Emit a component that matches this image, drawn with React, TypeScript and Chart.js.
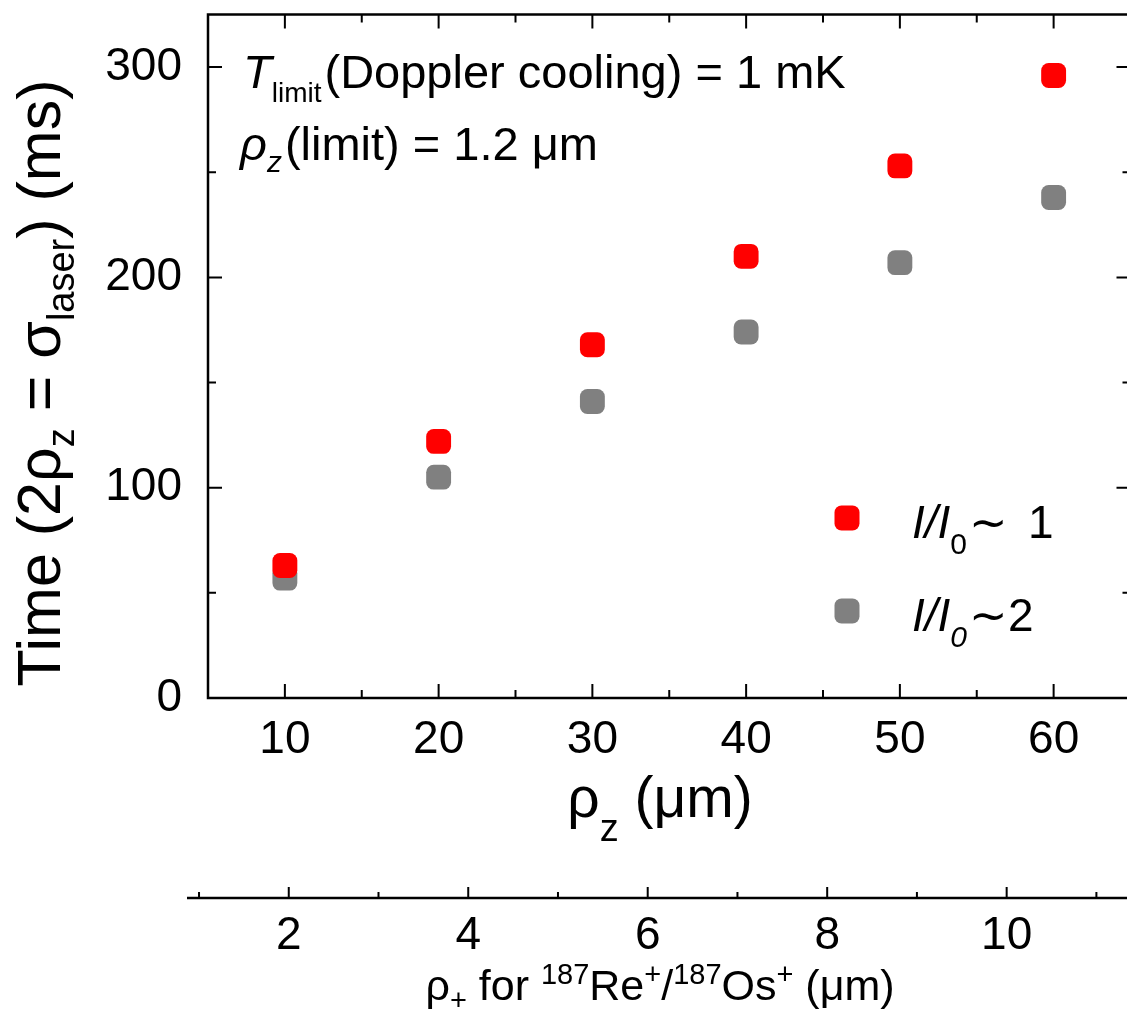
import React, { useEffect, useRef } from "react";
import { Chart, registerables } from "chart.js";

Chart.register(...registerables);

// ---- data ----
const RHO_Z = [10, 20, 30, 40, 50, 60];
const TIME_I1 = [63, 122, 168, 210, 253, 296];
const TIME_I2 = [57, 105, 141, 174, 207, 238];

const X_MIN = 5;
const X_MAX = 65;
const X_TICKS = [10, 20, 30, 40, 50, 60];
const X_MINOR = [15, 25, 35, 45, 55];

const Y_MIN = 0;
const Y_MAX = 325;
const Y_TICKS = [0, 100, 200, 300];
const Y_MINOR = [50, 150, 250];

const X2_MIN = 1.1;
const X2_MAX = 11.38;
const X2_TICKS = [2, 4, 6, 8, 10];
const X2_MINOR = [1, 3, 5, 7, 9, 11];

const SERIES_LABELS = ["I/I0~ 1", "I/I0~2"];
const RED = "#ff0000";
const GRAY = "#808080";

const FAMILY = '"Liberation Sans", Arial, Helvetica, sans-serif';
const fnt = (size: number, italic = false) =>
  `${italic ? "italic " : ""}${size}px ${FAMILY}`;

type Seg = { t: string; s: number; i?: boolean; dy?: number; dx?: number };

function segsWidth(ctx: CanvasRenderingContext2D, segs: Seg[]) {
  let w = 0;
  for (const g of segs) {
    ctx.font = fnt(g.s, g.i);
    w += (g.dx || 0) + ctx.measureText(g.t).width;
  }
  return w;
}

function drawSegs(
  ctx: CanvasRenderingContext2D,
  x: number,
  y: number,
  segs: Seg[],
  align: "left" | "center" = "left"
) {
  ctx.textAlign = "left";
  ctx.textBaseline = "alphabetic";
  let cx = align === "center" ? x - segsWidth(ctx, segs) / 2 : x;
  for (const g of segs) {
    ctx.font = fnt(g.s, g.i);
    cx += g.dx || 0;
    ctx.fillText(g.t, cx, y + (g.dy || 0));
    cx += ctx.measureText(g.t).width;
  }
}

const MAJ = 14;
const MIN = 8;

const decorPlugin = {
  id: "decor",
  afterDatasetsDraw(chart: any) {
    const ctx: CanvasRenderingContext2D = chart.ctx;
    const { left, right, top, bottom } = chart.chartArea;
    const xs = chart.scales.x;
    const ys = chart.scales.y;
    const x2 = chart.scales.x2;
    ctx.save();
    ctx.strokeStyle = "#000";
    ctx.lineWidth = 2.5;
    ctx.strokeRect(left, top, right - left, bottom - top);
    ctx.lineWidth = 2;
    ctx.beginPath();
    const xt = (vals: number[], len: number) => {
      for (const v of vals) {
        const p = xs.getPixelForValue(v);
        ctx.moveTo(p, bottom);
        ctx.lineTo(p, bottom - len);
        ctx.moveTo(p, top);
        ctx.lineTo(p, top + len);
      }
    };
    const yt = (vals: number[], len: number) => {
      for (const v of vals) {
        const p = ys.getPixelForValue(v);
        ctx.moveTo(left, p);
        ctx.lineTo(left + len, p);
        ctx.moveTo(right, p);
        ctx.lineTo(right - len, p);
      }
    };
    xt(X_TICKS, MAJ);
    xt(X_MINOR, MIN);
    yt(Y_TICKS, MAJ);
    yt(Y_MINOR, MIN);
    ctx.stroke();

    // secondary axis
    const y0 = x2.top;
    ctx.lineWidth = 2.5;
    ctx.beginPath();
    ctx.moveTo(left - 21, y0);
    ctx.lineTo(chart.width, y0);
    ctx.stroke();
    ctx.lineWidth = 2;
    ctx.beginPath();
    for (const v of X2_TICKS) {
      const p = x2.getPixelForValue(v);
      ctx.moveTo(p, y0);
      ctx.lineTo(p, y0 - 11);
    }
    for (const v of X2_MINOR) {
      const p = x2.getPixelForValue(v);
      ctx.moveTo(p, y0);
      ctx.lineTo(p, y0 - 6);
    }
    ctx.stroke();
    ctx.restore();
  },
  afterDraw(chart: any) {
    const ctx: CanvasRenderingContext2D = chart.ctx;
    ctx.save();
    ctx.fillStyle = "#000";

    // Y title (rotated)
    ctx.save();
    ctx.translate(60, 383);
    ctx.rotate(-Math.PI / 2);
    drawSegs(
      ctx,
      0,
      0,
      [
        { t: "Time (2ρ", s: 61 },
        { t: "z", s: 38, dy: 14 },
        { t: " = σ", s: 61 },
        { t: "laser", s: 38, dy: 14 },
        { t: ") (ms)", s: 61 },
      ],
      "center"
    );
    ctx.restore();

    // X title
    drawSegs(
      ctx,
      660,
      817,
      [
        { t: "ρ", s: 57 },
        { t: "z", s: 38, dy: 24 },
        { t: " (μm)", s: 57 },
      ],
      "center"
    );

    // X2 title
    drawSegs(
      ctx,
      660,
      1000,
      [
        { t: "ρ", s: 43 },
        { t: "+", s: 29, dy: 10 },
        { t: " for ", s: 43 },
        { t: "187", s: 29, dy: -16 },
        { t: "Re", s: 43 },
        { t: "+", s: 29, dy: -16 },
        { t: "/", s: 43 },
        { t: "187", s: 29, dy: -16 },
        { t: "Os", s: 43 },
        { t: "+", s: 29, dy: -16 },
        { t: " (μm)", s: 43 },
      ],
      "center"
    );

    // annotation
    drawSegs(ctx, 243, 88, [
      { t: "T", s: 47, i: true },
      { t: "limit", s: 28, dy: 14 },
      { t: "(Doppler cooling) = 1 mK", s: 47, dx: 3 },
    ]);
    drawSegs(ctx, 240, 160, [
      { t: "ρ", s: 47, i: true },
      { t: "z", s: 30, i: true, dy: 12 },
      { t: "(limit) = 1.2 μm", s: 47, dx: 3 },
    ]);

    // legend
    const rows = [
      { c: RED, y: 518, segs: [
        { t: "I/I", s: 46, i: true },
        { t: "0", s: 30, dy: 16 },
        { t: "∼", s: 46, dx: 2 },
        { t: "1", s: 46, dx: 20 },
      ] as Seg[] },
      { c: GRAY, y: 611, segs: [
        { t: "I/I", s: 46, i: true },
        { t: "0", s: 30, i: true, dy: 16 },
        { t: "∼", s: 46, dx: 2 },
        { t: "2", s: 46, dx: 0 },
      ] as Seg[] },
    ];
    for (const r of rows) {
      ctx.fillStyle = r.c;
      ctx.beginPath();
      (ctx as any).roundRect(847 - 12.5, r.y - 12.5, 25, 25, 7);
      ctx.fill();
      ctx.fillStyle = "#000";
      drawSegs(ctx, 912, r.y + 20, r.segs);
    }
    ctx.restore();
  },
};

export default function App() {
  const ref = useRef<HTMLCanvasElement | null>(null);
  useEffect(() => {
    if (!ref.current) return;
    const tickFont = { family: FAMILY, size: 46 };
    const zeroPad = (s: any) => {
      s.paddingTop = 0;
      s.paddingBottom = 0;
      s.paddingLeft = 0;
      s.paddingRight = 0;
    };
    const chart = new Chart(ref.current, {
      type: "scatter",
      data: {
        datasets: [
          {
            label: SERIES_LABELS[0],
            data: RHO_Z.map((x, i) => ({ x, y: TIME_I1[i] })),
            backgroundColor: RED,
            borderColor: RED,
            borderWidth: 0,
            pointStyle: "rectRounded",
            pointRadius: 14.5,
            pointHoverRadius: 14.5,
          },
          {
            label: SERIES_LABELS[1],
            data: RHO_Z.map((x, i) => ({ x, y: TIME_I2[i] })),
            backgroundColor: GRAY,
            borderColor: GRAY,
            borderWidth: 0,
            pointStyle: "rectRounded",
            pointRadius: 14.5,
            pointHoverRadius: 14.5,
          },
        ],
      },
      options: {
        animation: false,
        responsive: false,
        devicePixelRatio: 1,
        events: [],
        layout: { padding: { left: 0, right: 12, top: 13, bottom: 0 } },
        plugins: {
          legend: { display: false },
          tooltip: { enabled: false },
        },
        scales: {
          x: {
            type: "linear",
            position: "bottom",
            weight: 0,
            min: X_MIN,
            max: X_MAX,
            grid: { display: false },
            border: { display: false },
            ticks: { font: tickFont, color: "#000", padding: 7, maxRotation: 0, autoSkip: false },
            afterBuildTicks: (s: any) => {
              s.ticks = X_TICKS.map((v) => ({ value: v }));
            },
            afterFit: (s: any) => {
              s.height = 200;
              zeroPad(s);
            },
          },
          x2: {
            type: "linear",
            position: "bottom",
            weight: 1,
            min: X2_MIN,
            max: X2_MAX,
            grid: { display: false },
            border: { display: false },
            ticks: { font: tickFont, color: "#000", padding: 3, maxRotation: 0, autoSkip: false },
            afterBuildTicks: (s: any) => {
              s.ticks = X2_TICKS.map((v) => ({ value: v }));
            },
            afterFit: (s: any) => {
              s.height = 114;
              zeroPad(s);
            },
          },
          y: {
            type: "linear",
            position: "left",
            min: Y_MIN,
            max: Y_MAX,
            grid: { display: false },
            border: { display: false },
            ticks: { font: tickFont, color: "#000", padding: 18, autoSkip: false },
            afterBuildTicks: (s: any) => {
              s.ticks = Y_TICKS.map((v) => ({ value: v }));
            },
            afterFit: (s: any) => {
              s.width = 208;
              zeroPad(s);
            },
          },
        },
      } as any,
      plugins: [decorPlugin],
    });
    return () => chart.destroy();
  }, []);

  return (
    <div
      style={{
        position: "fixed",
        left: 0,
        top: 0,
        width: 1127,
        height: 1012,
        overflow: "hidden",
        background: "#fff",
      }}
    >
      <canvas ref={ref} width={1145} height={1012} style={{ display: "block" }} />
    </div>
  );
}
